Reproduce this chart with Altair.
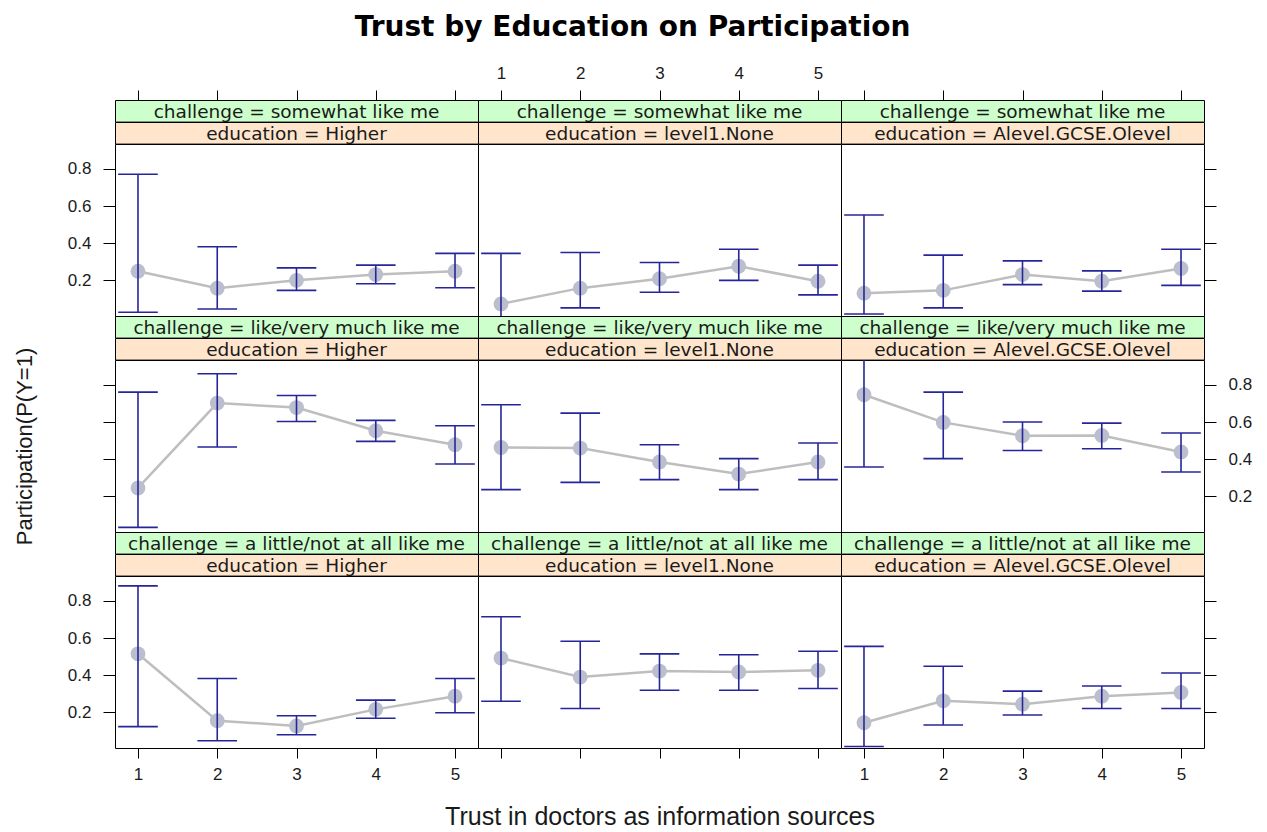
import altair as alt
import pandas as pd

# ---------------- data ----------------
trust = [1, 2, 3, 4, 5]
challenge_levels = ["somewhat like me", "like/very much like me", "a little/not at all like me"]
education_levels = ["Higher", "level1.None", "Alevel.GCSE.Olevel"]

# one list per education level (Higher, level1.None, Alevel.GCSE.Olevel)
fit_somewhat = [[0.249, 0.158, 0.200, 0.231, 0.249],
                [0.073, 0.158, 0.209, 0.276, 0.195],
                [0.131, 0.146, 0.231, 0.195, 0.264]]
lower_somewhat = [[0.028, 0.046, 0.146, 0.182, 0.160],
                  [0.000, 0.052, 0.136, 0.200, 0.122],
                  [0.019, 0.052, 0.177, 0.142, 0.173]]
upper_somewhat = [[0.771, 0.381, 0.267, 0.282, 0.345],
                  [0.345, 0.350, 0.296, 0.367, 0.282],
                  [0.552, 0.336, 0.305, 0.251, 0.367]]

fit_like = [[0.245, 0.702, 0.678, 0.553, 0.478],
            [0.463, 0.460, 0.385, 0.320, 0.385],
            [0.747, 0.598, 0.526, 0.528, 0.439]]
lower_like = [[0.033, 0.466, 0.603, 0.496, 0.374],
              [0.236, 0.275, 0.290, 0.236, 0.290],
              [0.358, 0.403, 0.447, 0.456, 0.331]]
upper_like = [[0.761, 0.860, 0.743, 0.609, 0.580],
              [0.693, 0.648, 0.478, 0.403, 0.487],
              [0.970, 0.761, 0.600, 0.594, 0.541]]

fit_little = [[0.515, 0.155, 0.127, 0.216, 0.287],
              [0.492, 0.390, 0.422, 0.417, 0.426],
              [0.144, 0.262, 0.244, 0.287, 0.307]]
lower_little = [[0.123, 0.047, 0.079, 0.168, 0.198],
                [0.260, 0.221, 0.319, 0.319, 0.328],
                [0.016, 0.132, 0.186, 0.221, 0.221]]
upper_little = [[0.881, 0.382, 0.182, 0.266, 0.382],
                [0.715, 0.583, 0.515, 0.510, 0.529],
                [0.555, 0.448, 0.314, 0.342, 0.412]]

y_ticks = [0.2, 0.4, 0.6, 0.8]

title_text = "Trust by Education on Participation"
x_title = "Trust in doctors as information sources"
y_title = "Participation(P(Y=1)"

# ---------------- table ----------------
fits = [fit_somewhat, fit_like, fit_little]
lows = [lower_somewhat, lower_like, lower_little]
ups = [upper_somewhat, upper_like, upper_little]
rows = []
for ci, ch in enumerate(challenge_levels):
    for ei, ed in enumerate(education_levels):
        for k, t in enumerate(trust):
            rows.append(dict(challenge=ch, education=ed, trust=t,
                             fit=fits[ci][ei][k], lower=lows[ci][ei][k], upper=ups[ci][ei][k]))
df = pd.DataFrame(rows)

# ---------------- styling ----------------
FONT = "DejaVu Sans"
W = 363
SH = 21.6
PH = 172
XDOM = [0.71, 5.29]
YDOM = [0.008, 0.934]
GREEN = "#CCFFCC"
PEACH = "#FFE5CC"
BAR = "#26269A"
LINE = "#BEBEBE"
PT = "#BBBECC"
CAP = 0.25
TXT = "#1a1a1a"

xscale = alt.Scale(domain=XDOM, nice=False, zero=False)
yscale = alt.Scale(domain=YDOM, nice=False, zero=False)


def x_axis(orient, labels, title=None, title_pad=0):
    kw = dict(orient=orient, values=trust, labels=labels, tickSize=10, labelPadding=8,
              labelFontSize=17, domain=False, grid=False, tickColor="black",
              labelColor=TXT, format="d", title=title)
    if title:
        kw.update(titleFontSize=25, titleFontWeight="normal", titlePadding=title_pad,
                  titleColor=TXT)
    return alt.Axis(**kw)


def y_axis(orient, labels, title=None, title_pad=0):
    kw = dict(orient=orient, values=y_ticks, labels=labels, tickSize=12, labelPadding=12,
              labelFontSize=17, domain=False, grid=False, tickColor="black",
              labelColor=TXT, format=".1f", title=title)
    if title:
        kw.update(titleFontSize=22, titleFontWeight="normal", titlePadding=title_pad,
                  titleColor=TXT)
    return alt.Axis(**kw)


def strip(text, fill, axis=None):
    sdf = pd.DataFrame({"label": [text], "xpos": [sum(XDOM) / 2]})
    xenc = alt.X("xpos:Q", scale=xscale, axis=axis if axis is not None else None)
    return alt.Chart(sdf).mark_text(font=FONT, fontSize=18.5, color=TXT,
                                    baseline="middle", align="center").encode(
        x=xenc, y=alt.value(SH / 2 + 1), text="label:N"
    ).properties(width=W, height=SH,
                 view=alt.ViewBackground(fill=fill, stroke="black", strokeWidth=1))


def panel(ci, ei):
    ch = challenge_levels[ci]
    ed = education_levels[ei]
    # x axis
    if ci == 2:
        if ei == 1:
            xa = x_axis("bottom", False, x_title, 46)
        else:
            xa = x_axis("bottom", True)
    else:
        xa = None
    # y axis
    if ei == 0:
        if ci == 1:
            ya = y_axis("left", False, y_title, 66)
        else:
            ya = y_axis("left", True)
    elif ei == 2:
        ya = y_axis("right", ci == 1)
    else:
        ya = None

    def X(field):
        return alt.X(f"{field}:Q", scale=xscale, axis=xa)

    def Y(field):
        return alt.Y(f"{field}:Q", scale=yscale, axis=ya)

    line = alt.Chart().mark_line(color=LINE, strokeWidth=2.5, clip=True).encode(x=X("trust"), y=Y("fit"))
    pts = alt.Chart().mark_circle(color=PT, size=220, opacity=1, clip=True).encode(x=X("trust"), y=Y("fit"))
    bar = alt.Chart().mark_rule(color=BAR, strokeWidth=1.6, clip=True).encode(
        x=X("trust"), y=Y("lower"), y2="upper:Q")
    cap_lo = alt.Chart().mark_rule(color=BAR, strokeWidth=1.6, clip=True).encode(
        x=X("xl"), x2="xr:Q", y=Y("lower"))
    cap_hi = alt.Chart().mark_rule(color=BAR, strokeWidth=1.6, clip=True).encode(
        x=X("xl"), x2="xr:Q", y=Y("upper"))
    return alt.layer(line, pts, bar, cap_lo, cap_hi, data=df).transform_filter(
        (alt.datum.challenge == ch) & (alt.datum.education == ed)
    ).transform_calculate(
        xl=f"datum.trust - {CAP}", xr=f"datum.trust + {CAP}"
    ).properties(width=W, height=PH,
                 view=alt.ViewBackground(fill="white", stroke="black", strokeWidth=1))


cells = []
for ci, ch in enumerate(challenge_levels):
    for ei in range(3):
        ax = None
        if ci == 0:
            ax = x_axis("top", ei == 1)
        cells.append(strip(f"challenge = {ch}", GREEN, ax))
    for ei, ed in enumerate(education_levels):
        cells.append(strip(f"education = {ed}", PEACH))
    for ei in range(3):
        cells.append(panel(ci, ei))

chart = alt.concat(
    *cells, columns=3, spacing=0, bounds="flush", align="each",
    title=alt.TitleParams(title_text, font=FONT, fontSize=28, fontWeight="bold",
                          anchor="middle", color="black", offset=22),
).configure_view(stroke="black", strokeWidth=1).configure(background="white")

chart.save("out.html", embed_options={"renderer": "svg", "actions": False})
